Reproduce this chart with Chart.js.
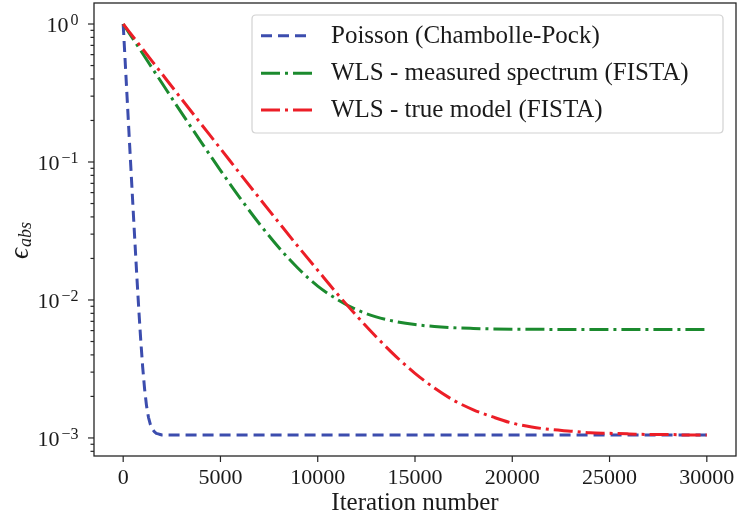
<!DOCTYPE html>
<html>
<head>
<meta charset="utf-8">
<script src="https://cdn.jsdelivr.net/npm/chart.js@4/dist/chart.umd.min.js"></script>
<style>
html,body{margin:0;padding:0;background:#fff;}
canvas{display:block;}
</style>
</head>
<body>
<canvas id="c" width="740" height="519"></canvas>
<script>
// ---- data ----
const iterPoisson = [0,100,200,300,400,500,600,700,800,900,1000,1100,1200,1300,1400,1500,1600,1700,1800,1900,2000,2500,3000,5000,10000,15000,20000,25000,30000];
const epsPoisson  = [1.0,0.544,0.296,0.161,0.0882,0.0484,0.0268,0.0150,0.00865,0.00518,0.00329,0.00227,0.00171,0.00141,0.00125,0.00116,0.00111,0.00108,0.00107,0.00106,0.00105,0.00105,0.00105,0.00105,0.00105,0.00105,0.00105,0.00105,0.00105];

const iterWls = [0,1000,2000,3000,4000,5000,6000,7000,8000,9000,10000,11000,12000,13000,14000,15000,16000,17000,18000,19000,20000,21000,22000,23000,24000,25000,26000,27000,28000,29000,30000];
const epsMeasured = [1.0,0.611,0.372,0.227,0.140,0.087,0.055,0.0357,0.0240,0.0169,0.0126,0.0101,0.0085,0.00755,0.00698,0.00663,0.00642,0.00629,0.00622,0.00617,0.00614,0.00613,0.00612,0.00611,0.00611,0.0061,0.0061,0.0061,0.0061,0.0061,0.0061];
const epsTrue = [1.0,0.659,0.434,0.286,0.189,0.125,0.0825,0.0547,0.0364,0.0243,0.0164,0.0111,0.00768,0.00542,0.00392,0.00294,0.0023,0.00187,0.0016,0.00142,0.00128,0.0012,0.00115,0.00112,0.00109,0.00108,0.00107,0.00106,0.00106,0.00105,0.00105];

const seriesLabels = ['Poisson (Chambolle-Pock)','WLS - measured spectrum (FISTA)','WLS - true model (FISTA)'];
const xTicks = [0,5000,10000,15000,20000,25000,30000];
const yMajorTicks = [0.001,0.01,0.1,1];
const yTickExponents = ['\u22123','\u22122','\u22121','0'];
const xTitle = 'Iteration number';
const yTitleMain = '\u03F5';
const yTitleSub = 'abs';

// ---- styles ----
const SERIF = '"Liberation Serif","DejaVu Serif",serif';
const TXT = '#1a1a1a';
const AX = '#262626';

function pts(xs, ys){ return xs.map((t,i)=>({x:t,y:ys[i]})); }

const datasets = [
  {label:seriesLabels[0], data:pts(iterPoisson,epsPoisson), borderColor:'#3c4dae', borderDash:[11,6], order:3, tension:0},
  {label:seriesLabels[1], data:pts(iterWls,epsMeasured), borderColor:'#1b8a2e', borderDash:[19,5,3,5], order:2, cubicInterpolationMode:'monotone'},
  {label:seriesLabels[2], data:pts(iterWls,epsTrue), borderColor:'#ec1e27', borderDash:[19,5,3,5], order:1, cubicInterpolationMode:'monotone'}
].map(d=>Object.assign(d,{borderWidth:3, pointRadius:0, fill:false, borderCapStyle:'butt', borderJoinStyle:'round'}));

const mplPlugin = {
  id:'mpl',
  afterDraw(chart){
    const ctx = chart.ctx, a = chart.chartArea, xs = chart.scales.x, ys = chart.scales.y;
    ctx.save();
    ctx.setLineDash([]);
    // frame
    ctx.strokeStyle = AX; ctx.lineWidth = 1.3;
    ctx.strokeRect(a.left, a.top, a.right-a.left, a.bottom-a.top);
    // x ticks + labels
    ctx.lineWidth = 1.2;
    ctx.fillStyle = TXT;
    ctx.font = '22px '+SERIF;
    ctx.textAlign = 'center'; ctx.textBaseline = 'alphabetic';
    xTicks.forEach(v=>{
      const px = xs.getPixelForValue(v);
      ctx.beginPath(); ctx.moveTo(px, a.bottom); ctx.lineTo(px, a.bottom+6); ctx.stroke();
      ctx.fillText(String(v), px, a.bottom+27.5);
    });
    // y ticks (major + minor)
    const lo = ys.min, hi = ys.max;
    for(let e=-4;e<=1;e++){
      for(let m=1;m<=9;m++){
        const v = m*Math.pow(10,e);
        if(v<lo || v>hi) continue;
        const py = ys.getPixelForValue(v);
        const len = (m===1)?6:3.5;
        ctx.beginPath(); ctx.moveTo(a.left, py); ctx.lineTo(a.left-len, py); ctx.stroke();
      }
    }
    yMajorTicks.forEach((v,i)=>{
      const py = ys.getPixelForValue(v);
      const rx = a.left - 15.5;
      ctx.textAlign = 'right';
      ctx.font = '16px '+SERIF;
      const ex = yTickExponents[i];
      ctx.fillText(ex, rx, py+1);
      const w = ctx.measureText(ex).width;
      ctx.font = '22px '+SERIF;
      ctx.fillText('10', rx - w - 2, py+8);
    });
    // x title
    ctx.textAlign = 'center';
    ctx.font = '25px '+SERIF;
    ctx.fillText(xTitle, (a.left+a.right)/2, 510);
    // y title (rotated)
    ctx.save();
    ctx.translate(28, 259);
    ctx.rotate(-Math.PI/2);
    ctx.textAlign = 'left';
    ctx.font = 'italic 27px '+SERIF;
    ctx.fillText(yTitleMain, 0, 0);
    const we = ctx.measureText(yTitleMain).width;
    ctx.font = 'italic 18px '+SERIF;
    ctx.fillText(yTitleSub, we+1, 3);
    ctx.restore();
    // legend
    const lx=252, ly=15, lw=471, lh=118, r=4;
    ctx.beginPath();
    ctx.moveTo(lx+r,ly); ctx.lineTo(lx+lw-r,ly); ctx.quadraticCurveTo(lx+lw,ly,lx+lw,ly+r);
    ctx.lineTo(lx+lw,ly+lh-r); ctx.quadraticCurveTo(lx+lw,ly+lh,lx+lw-r,ly+lh);
    ctx.lineTo(lx+r,ly+lh); ctx.quadraticCurveTo(lx,ly+lh,lx,ly+lh-r);
    ctx.lineTo(lx,ly+r); ctx.quadraticCurveTo(lx,ly,lx+r,ly);
    ctx.closePath();
    ctx.fillStyle = 'rgba(255,255,255,0.85)'; ctx.fill();
    ctx.strokeStyle = '#d2d2d2'; ctx.lineWidth = 1.2; ctx.stroke();
    const rows = [35.7, 73.3, 110];
    chart.data.datasets.forEach((d,i)=>{
      const yy = rows[i];
      ctx.strokeStyle = d.borderColor; ctx.lineWidth = d.borderWidth;
      ctx.lineCap = 'butt';
      ctx.setLineDash(d.borderDash);
      ctx.beginPath(); ctx.moveTo(261, yy); ctx.lineTo(312, yy); ctx.stroke();
      ctx.setLineDash([]);
      ctx.fillStyle = TXT;
      ctx.font = '25px '+SERIF;
      ctx.textAlign = 'left';
      ctx.fillText(d.label, 331, yy+7);
    });
    ctx.restore();
  }
};

new Chart(document.getElementById('c'), {
  type:'line',
  data:{datasets},
  options:{
    responsive:false,
    animation:false,
    devicePixelRatio:1,
    layout:{padding:{left:0,right:4,top:3,bottom:0}},
    plugins:{legend:{display:false}, tooltip:{enabled:false}},
    scales:{
      x:{type:'linear', min:-1500, max:31500,
         grid:{display:false}, border:{display:false}, ticks:{display:false},
         afterBuildTicks:(s)=>{ s.ticks = xTicks.map(v=>({value:v})); },
         afterFit:(s)=>{ s.height = 63; }},
      y:{type:'logarithmic', min:0.00074, max:1.42,
         grid:{display:false}, border:{display:false}, ticks:{display:false},
         afterBuildTicks:(s)=>{ s.ticks = yMajorTicks.map(v=>({value:v, major:true})); },
         afterFit:(s)=>{ s.width = 94; }}
    }
  },
  plugins:[mplPlugin]
});
</script>
</body>
</html>
